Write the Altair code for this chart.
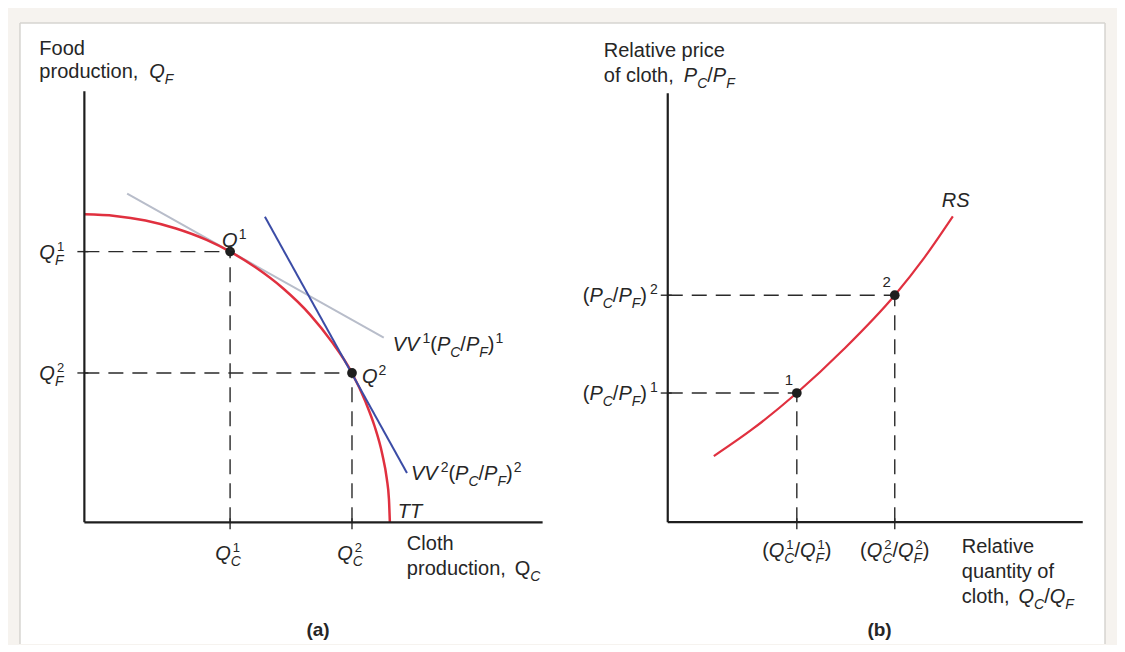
import altair as alt
import pandas as pd

# ---------------- data ----------------
# Panel (a): production possibility frontier TT
tt_cloth = [0.0, 1.0, 2.0, 3.0, 4.0, 4.77, 5.6, 6.5, 7.4, 8.1, 8.76, 9.2, 9.5, 9.75, 9.9, 9.97, 10.0]
tt_food = [10.0, 9.95, 9.8, 9.54, 9.17, 8.79, 8.28, 7.6, 6.73, 5.86, 4.85, 3.92, 3.12, 2.22, 1.41, 0.75, 0.0]
# isovalue lines
vv1_cloth = [1.4, 9.8]
vv1_food = [10.67, 6.0]
vv2_cloth = [5.91, 10.56]
vv2_food = [9.92, 1.6]
# production points Q1, Q2
q_cloth = [4.77, 8.76]
q_food = [8.79, 4.85]
# axis extents
a_cloth_max, a_food_max = 15.0, 14.0

# Panel (b): relative supply RS
rs_qty = [1.11, 2.07, 3.11, 4.24, 5.47, 6.17, 6.87]
rs_price = [1.54, 2.19, 3.01, 4.03, 5.29, 6.15, 7.13]
eq_qty = [3.11, 5.47]
eq_price = [3.01, 5.29]
eq_labels = ["1", "2"]
b_qty_max, b_price_max = 10.0, 10.0

# ---------------- layout / style ----------------
W_A, H_A = 556, 636
W_B, H_B = 553, 636
XA = [-2.5, 15.7]
YA = [-3.95, 16.7]
XB = [-2.5, 10.825]
YB = [-2.84, 11.985]
PXU = {
    "a": (W_A / (XA[1] - XA[0]), H_A / (YA[1] - YA[0])),
    "b": (W_B / (XB[1] - XB[0]), H_B / (YB[1] - YB[0])),
}
RED = "#e0303f"
BLUE = "#3b4ca6"
GRAY = "#b8bdca"
INK = "#1e1e1e"
TXT = "#262626"
BG = "#f6f3ef"
FRAME = "#d6d4d0"
FONT = "Liberation Sans"
MAIN, SCRIPT = 20, 14

WID = {" ": 278, "(": 333, ")": 333, "/": 278, ",": 278, "F": 611, "Q": 778, "C": 722,
       "V": 667, "P": 667, "T": 611, "R": 722, "S": 667, "o": 556, "d": 556, "p": 556,
       "r": 333, "u": 556, "c": 500, "t": 278, "i": 222, "n": 556, "l": 222, "h": 556,
       "e": 556, "a": 556, "v": 500, "q": 556, "y": 500, "f": 278, "b": 556}


def tw(s, size):
    return sum(WID.get(c, 556) for c in s) * size / 1000.0


def rich(rows, panel, ax, ay, dx, dy, pieces, align="left"):
    items, cur = [], 0.0
    for p in pieces:
        kind = p[0]
        if kind == "n":
            size = p[3] if len(p) > 3 else MAIN
            items.append((cur, 0, p[1], size, p[2]))
            cur += tw(p[1], size)
        elif kind == "sup":
            items.append((cur + 1, -8, p[1], SCRIPT, p[2]))
            cur += tw(p[1], SCRIPT) + 1
        elif kind == "sub":
            items.append((cur, 6, p[1], SCRIPT, p[2]))
            cur += tw(p[1], SCRIPT)
        elif kind == "subsup":
            items.append((cur, 6, p[1], SCRIPT, "italic"))
            items.append((cur + 2, -8, p[2], SCRIPT - 1, "normal"))
            cur += max(tw(p[1], SCRIPT), tw(p[2], SCRIPT - 1) + 2)
        elif kind == "gap":
            cur += p[1]
    shift = {"left": 0.0, "center": -cur / 2.0, "right": -cur}[align]
    ux, uy = PXU[panel]
    for off, bl, text, size, style in items:
        rows.append(dict(x=ax + (dx + shift + off) / ux, y=ay - (dy + bl) / uy,
                         text=text, size=size, style=style))


# ---------------- text (panel a) ----------------
ta = []
rich(ta, "a", 0, a_food_max, -45, -36, [("n", "Food", "normal")])
rich(ta, "a", 0, a_food_max, -45, -13, [("n", "production,", "normal"), ("gap", 11),
                                        ("n", "Q", "italic"), ("sub", "F", "italic")])
for i, lab in enumerate(["1", "2"]):
    rich(ta, "a", 0, q_food[i], -45, 7, [("n", "Q", "italic"), ("subsup", "F", lab)])
    rich(ta, "a", q_cloth[i], 0, -2, 38, [("n", "Q", "italic"), ("subsup", "C", lab)], "center")
rich(ta, "a", q_cloth[0], q_food[0], -8, -5, [("n", "Q", "italic"), ("sup", "1", "normal")])
rich(ta, "a", q_cloth[1], q_food[1], 10, 10, [("n", "Q", "italic"), ("sup", "2", "normal")])


def vv_label(k):
    return [("n", "VV", "italic"), ("gap", 2), ("sup", k, "normal"), ("n", "(", "normal"),
            ("n", "P", "italic"), ("sub", "C", "italic"), ("n", "/", "normal"),
            ("n", "P", "italic"), ("sub", "F", "italic"), ("n", ")", "normal"),
            ("sup", k, "normal")]


rich(ta, "a", vv1_cloth[1], vv1_food[1], 9, 13, vv_label("1"))
rich(ta, "a", vv2_cloth[1], vv2_food[1], 4, 7, vv_label("2"))
rich(ta, "a", tt_cloth[-1], 0, 8, -4, [("n", "TT", "italic")])
rich(ta, "a", tt_cloth[-1], 0, 17, 28, [("n", "Cloth", "normal")])
rich(ta, "a", tt_cloth[-1], 0, 17, 53, [("n", "production,", "normal"), ("gap", 9),
                                        ("n", "Q", "normal"), ("sub", "C", "italic")])
rich(ta, "a", 7.65, -3.7, 0, 0, [("n", "(a)", "bold", 19)], "center")

# ---------------- text (panel b) ----------------
tb = []
rich(tb, "b", 0, b_price_max, -64, -36, [("n", "Relative price", "normal")])
rich(tb, "b", 0, b_price_max, -64, -11, [("n", "of cloth,", "normal"), ("gap", 10),
                                         ("n", "P", "italic"), ("sub", "C", "italic"),
                                         ("n", "/", "normal"), ("n", "P", "italic"),
                                         ("sub", "F", "italic")])
for i, lab in enumerate(eq_labels):
    rich(tb, "b", 0, eq_price[i], -10, 7,
         [("n", "(", "normal"), ("n", "P", "italic"), ("sub", "C", "italic"),
          ("n", "/", "normal"), ("n", "P", "italic"), ("sub", "F", "italic"),
          ("n", ")", "normal"), ("gap", 2), ("sup", lab, "normal")], "right")
    rich(tb, "b", eq_qty[i], eq_price[i], -8, -8, [("n", lab, "normal", 15)], "center")
    rich(tb, "b", eq_qty[i], 0, 0, 35,
         [("n", "(", "normal"), ("n", "Q", "italic"), ("subsup", "C", lab),
          ("n", "/", "normal"), ("n", "Q", "italic"), ("subsup", "F", lab),
          ("n", ")", "normal")], "center")
rich(tb, "b", rs_qty[-1], rs_price[-1], -11, -9, [("n", "RS", "italic")])
rich(tb, "b", b_qty_max, 0, -121, 31, [("n", "Relative", "normal")])
rich(tb, "b", b_qty_max, 0, -121, 56, [("n", "quantity of", "normal")])
rich(tb, "b", b_qty_max, 0, -121, 81, [("n", "cloth,", "normal"), ("gap", 9),
                                       ("n", "Q", "italic"), ("sub", "C", "italic"),
                                       ("n", "/", "normal"), ("n", "Q", "italic"),
                                       ("sub", "F", "italic")])
rich(tb, "b", 5.09, -2.65, 0, 0, [("n", "(b)", "bold", 19)], "center")


# ---------------- chart builders ----------------
def enc_xy(xs, ys, xf="x", yf="y"):
    return dict(x=alt.X(f"{xf}:Q", scale=alt.Scale(domain=xs, nice=False, zero=False), axis=None),
                y=alt.Y(f"{yf}:Q", scale=alt.Scale(domain=ys, nice=False, zero=False), axis=None))


def rules(df, xs, ys, **mk):
    e = enc_xy(xs, ys)
    return alt.Chart(df).mark_rule(**mk).encode(x=e["x"], y=e["y"], x2="x2:Q", y2="y2:Q")


def text_layers(rows, xs, ys):
    df = pd.DataFrame(rows)
    out = []
    for style, kw in [("normal", {}), ("italic", {"fontStyle": "italic"}),
                      ("bold", {"fontWeight": "bold"})]:
        out.append(alt.Chart(df).transform_filter(alt.datum.style == style)
                   .mark_text(align="left", baseline="alphabetic", font=FONT, color=TXT, **kw)
                   .encode(**enc_xy(xs, ys), text="text:N", size=alt.Size("size:Q", scale=None)))
    return out


def panel(name, xs, ys, frame_left, frame_right, frame_top, axes, guides, ticks, curves, pts, rows, w, h):
    frame_df = pd.DataFrame([dict(x=frame_left, x2=frame_right, y=ys[0], y2=frame_top)])
    e = enc_xy(xs, ys)
    bg = alt.Chart(frame_df).mark_rect(fill="white").encode(
        x=e["x"], x2="x2:Q", y=e["y"], y2="y2:Q")
    border_rows = [dict(x=frame_left, y=frame_top, x2=frame_right, y2=frame_top)]
    if name == "a":
        border_rows.append(dict(x=frame_left, y=ys[0], x2=frame_left, y2=frame_top))
    else:
        border_rows.append(dict(x=frame_right, y=ys[0], x2=frame_right, y2=frame_top))
    border = rules(pd.DataFrame(border_rows), xs, ys, color=FRAME, strokeWidth=1.5)
    layers = [bg, border]
    layers += curves
    layers.append(rules(pd.DataFrame(guides), xs, ys, color="#2a2a2a", strokeWidth=1.4,
                        strokeDash=[15, 9]))
    layers.append(rules(pd.DataFrame(ticks), xs, ys, color="#2a2a2a", strokeWidth=1.4))
    layers.append(rules(pd.DataFrame(axes), xs, ys, color=INK, strokeWidth=2.2))
    layers.append(alt.Chart(pts).mark_circle(size=95, color=INK, opacity=1).encode(**enc_xy(xs, ys)))
    layers += text_layers(rows, xs, ys)
    return alt.layer(*layers).properties(width=w, height=h)


def guides_for(qx, qy):
    g = []
    for x, y in zip(qx, qy):
        g.append(dict(x=0, y=y, x2=x, y2=y))
        g.append(dict(x=x, y=0, x2=x, y2=y))
    return g


def ticks_for(name, qx, qy):
    ux, uy = PXU[name]
    t = []
    for x, y in zip(qx, qy):
        t.append(dict(x=-7 / ux, y=y, x2=4 / ux, y2=y))
        t.append(dict(x=x, y=-7 / uy, x2=x, y2=4 / uy))
    return t


# panel (a)
tt_df = pd.DataFrame({"x": tt_cloth, "y": tt_food})
vv1_df = pd.DataFrame({"x": vv1_cloth, "y": vv1_food})
vv2_df = pd.DataFrame({"x": vv2_cloth, "y": vv2_food})
curves_a = [
    alt.Chart(vv1_df).mark_line(color=GRAY, strokeWidth=2).encode(**enc_xy(XA, YA)),
    alt.Chart(tt_df).mark_line(color=RED, strokeWidth=2.5, interpolate="monotone").encode(**enc_xy(XA, YA)),
    alt.Chart(vv2_df).mark_line(color=BLUE, strokeWidth=2).encode(**enc_xy(XA, YA)),
]
axes_a = [dict(x=0, y=0, x2=0, y2=a_food_max), dict(x=0, y=0, x2=a_cloth_max, y2=0)]
pa = panel("a", XA, YA, -2.108, XA[1], 16.21, axes_a, guides_for(q_cloth, q_food),
           ticks_for("a", q_cloth, q_food), curves_a,
           pd.DataFrame({"x": q_cloth, "y": q_food}), ta, W_A, H_A)

# panel (b)
rs_df = pd.DataFrame({"x": rs_qty, "y": rs_price})
curves_b = [alt.Chart(rs_df).mark_line(color=RED, strokeWidth=2.2, interpolate="monotone")
            .encode(**enc_xy(XB, YB))]
axes_b = [dict(x=0, y=0, x2=0, y2=b_price_max), dict(x=0, y=0, x2=b_qty_max, y2=0)]
pb = panel("b", XB, YB, XB[0], 10.536, 11.636, axes_b, guides_for(eq_qty, eq_price),
           ticks_for("b", eq_qty, eq_price), curves_b,
           pd.DataFrame({"x": eq_qty, "y": eq_price}), tb, W_B, H_B)

chart = (alt.hconcat(pa, pb, spacing=0, bounds="flush")
         .properties(padding=0, background=BG)
         .configure_view(stroke=None))

chart.save("out.html", embed_options={"renderer": "svg", "actions": False})
